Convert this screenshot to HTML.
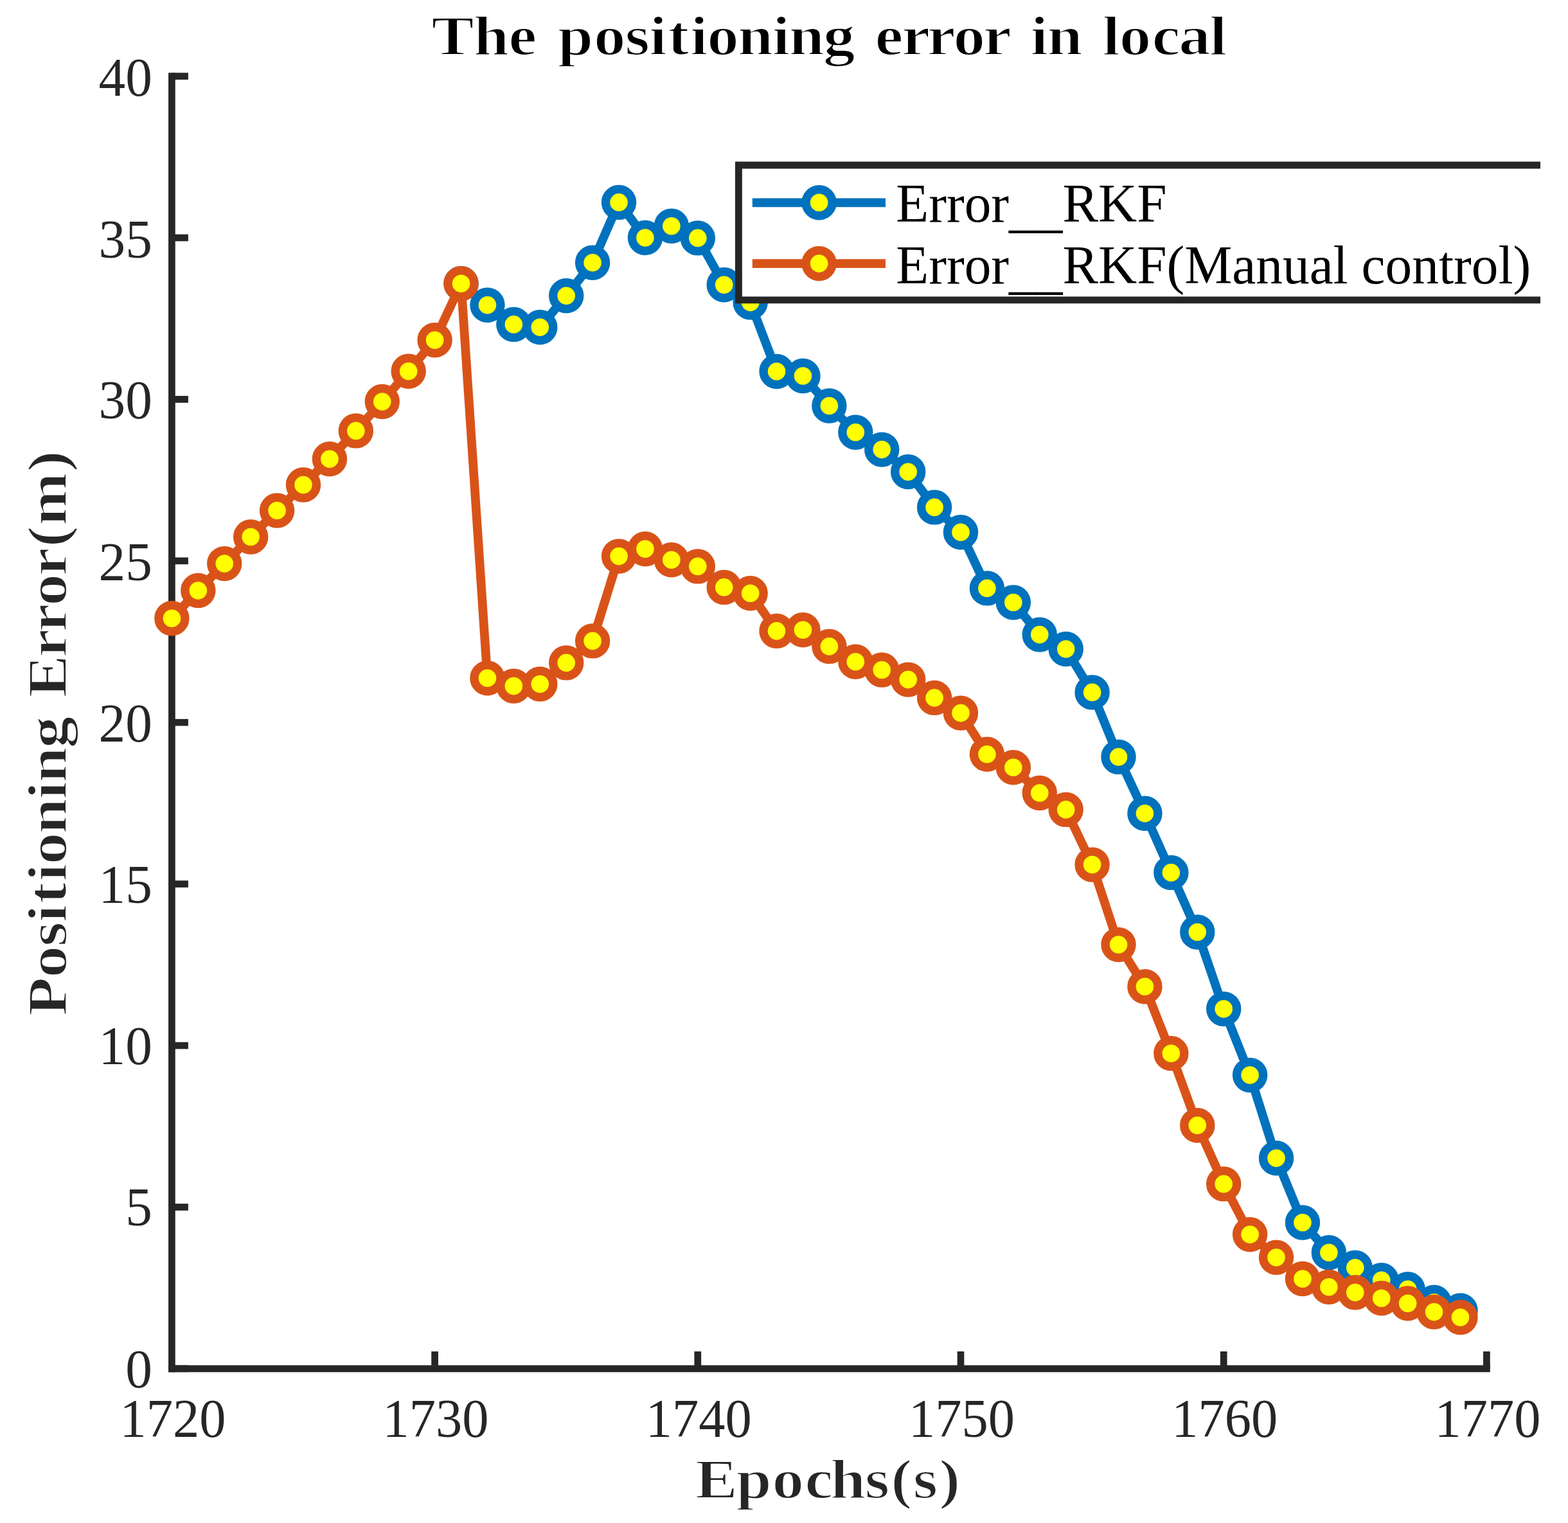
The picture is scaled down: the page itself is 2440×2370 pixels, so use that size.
<!DOCTYPE html>
<html lang="en"><head><meta charset="utf-8"><title>The positioning error in local</title>
<style>html,body{margin:0;padding:0;background:#fff;overflow:hidden}svg{display:block}text{font-family:"Liberation Serif","DejaVu Serif",serif;font-size:83.33px;white-space:pre}.tk{fill:#262626}.b{font-weight:bold}.lg{fill:#000}</style></head><body>
<svg width="2440" height="2370" viewBox="0 0 2440 2370">
<rect width="2440" height="2370" fill="#fff"/>
<g stroke="#262626" stroke-width="10.7" fill="none" stroke-linecap="butt">
<path d="M267.4,113.25 V2135.2"/>
<path d="M262.05,2129.85 H2318.75"/>
<path d="M267.4,2129.85 H292.9"/>
<path d="M267.4,1878.44 H292.9"/>
<path d="M267.4,1627.04 H292.9"/>
<path d="M267.4,1375.63 H292.9"/>
<path d="M267.4,1124.22 H292.9"/>
<path d="M267.4,872.82 H292.9"/>
<path d="M267.4,621.41 H292.9"/>
<path d="M267.4,370.01 H292.9"/>
<path d="M267.4,118.6 H292.9"/>
<path d="M676.6,2129.85 V2103"/>
<path d="M1085.8,2129.85 V2103"/>
<path d="M1495,2129.85 V2103"/>
<path d="M1904.2,2129.85 V2103"/>
<path d="M2313.4,2129.85 V2103"/>
</g>
<g class="tk">
<text transform="translate(236.8,2158.65) scale(1,1.025)" text-anchor="end">0</text>
<text transform="translate(236.8,1906.94) scale(1,1.025)" text-anchor="end">5</text>
<text transform="translate(236.8,1656.34) scale(1,1.025)" text-anchor="end">10</text>
<text transform="translate(236.8,1404.73) scale(1,1.025)" text-anchor="end">15</text>
<text transform="translate(236.8,1154.12) scale(1,1.025)" text-anchor="end">20</text>
<text transform="translate(236.8,902.62) scale(1,1.025)" text-anchor="end">25</text>
<text transform="translate(236.8,651.41) scale(1,1.025)" text-anchor="end">30</text>
<text transform="translate(236.8,400.61) scale(1,1.025)" text-anchor="end">35</text>
<text transform="translate(236.8,148.9) scale(1,1.025)" text-anchor="end">40</text>
<text transform="translate(268.9,2236.2) scale(0.99,1.025)" text-anchor="middle">1720</text>
<text transform="translate(678.1,2236.2) scale(0.99,1.025)" text-anchor="middle">1730</text>
<text transform="translate(1087.3,2236.2) scale(0.99,1.025)" text-anchor="middle">1740</text>
<text transform="translate(1496.5,2236.2) scale(0.99,1.025)" text-anchor="middle">1750</text>
<text transform="translate(1905.7,2236.2) scale(0.99,1.025)" text-anchor="middle">1760</text>
<text transform="translate(2314.9,2236.2) scale(0.99,1.025)" text-anchor="middle">1770</text>
</g>
<polyline points="717.52,441.3 758.44,474.7 799.36,504.9 840.28,509.3 881.2,460.2 922.12,408.8 963.04,314.9 1003.96,370 1044.88,351.8 1085.8,370.4 1126.72,443.2 1167.64,470.6 1208.56,578 1249.48,585 1290.4,631.5 1331.32,672.8 1372.24,699.6 1413.16,734.3 1454.08,789.4 1495,828.2 1535.92,915.4 1576.84,937.5 1617.76,987.6 1658.68,1010 1699.6,1077.4 1740.52,1177.9 1781.44,1265.8 1822.36,1357.9 1863.28,1450.5 1904.2,1570.1 1945.12,1673.1 1986.04,1802.3 2026.96,1902.5 2067.88,1949.3 2108.8,1972.7 2149.72,1992.3 2190.64,2006.3 2231.56,2026.8 2272.48,2039.4" fill="none" stroke="#0072BD" stroke-width="13.8" stroke-linejoin="round"/>
<g fill="#FFFF00" stroke="#0072BD" stroke-width="13.4">
<circle cx="717.52" cy="441.3" r="20.5"/>
<circle cx="758.44" cy="474.7" r="20.5"/>
<circle cx="799.36" cy="504.9" r="20.5"/>
<circle cx="840.28" cy="509.3" r="20.5"/>
<circle cx="881.2" cy="460.2" r="20.5"/>
<circle cx="922.12" cy="408.8" r="20.5"/>
<circle cx="963.04" cy="314.9" r="20.5"/>
<circle cx="1003.96" cy="370" r="20.5"/>
<circle cx="1044.88" cy="351.8" r="20.5"/>
<circle cx="1085.8" cy="370.4" r="20.5"/>
<circle cx="1126.72" cy="443.2" r="20.5"/>
<circle cx="1167.64" cy="470.6" r="20.5"/>
<circle cx="1208.56" cy="578" r="20.5"/>
<circle cx="1249.48" cy="585" r="20.5"/>
<circle cx="1290.4" cy="631.5" r="20.5"/>
<circle cx="1331.32" cy="672.8" r="20.5"/>
<circle cx="1372.24" cy="699.6" r="20.5"/>
<circle cx="1413.16" cy="734.3" r="20.5"/>
<circle cx="1454.08" cy="789.4" r="20.5"/>
<circle cx="1495" cy="828.2" r="20.5"/>
<circle cx="1535.92" cy="915.4" r="20.5"/>
<circle cx="1576.84" cy="937.5" r="20.5"/>
<circle cx="1617.76" cy="987.6" r="20.5"/>
<circle cx="1658.68" cy="1010" r="20.5"/>
<circle cx="1699.6" cy="1077.4" r="20.5"/>
<circle cx="1740.52" cy="1177.9" r="20.5"/>
<circle cx="1781.44" cy="1265.8" r="20.5"/>
<circle cx="1822.36" cy="1357.9" r="20.5"/>
<circle cx="1863.28" cy="1450.5" r="20.5"/>
<circle cx="1904.2" cy="1570.1" r="20.5"/>
<circle cx="1945.12" cy="1673.1" r="20.5"/>
<circle cx="1986.04" cy="1802.3" r="20.5"/>
<circle cx="2026.96" cy="1902.5" r="20.5"/>
<circle cx="2067.88" cy="1949.3" r="20.5"/>
<circle cx="2108.8" cy="1972.7" r="20.5"/>
<circle cx="2149.72" cy="1992.3" r="20.5"/>
<circle cx="2190.64" cy="2006.3" r="20.5"/>
<circle cx="2231.56" cy="2026.8" r="20.5"/>
<circle cx="2272.48" cy="2039.4" r="20.5"/>
</g>
<polyline points="267.4,962.2 308.32,919 349.24,877.1 390.16,835.5 431.08,794.5 472,754.5 512.92,714.2 553.84,670.4 594.76,625 635.68,577.7 676.6,529.2 717.52,441.3 758.44,1055.3 799.36,1067.6 840.28,1064.5 881.2,1031.4 922.12,997.4 963.04,865.6 1003.96,854.3 1044.88,871.3 1085.8,881.4 1126.72,913.9 1167.64,923.3 1208.56,981.9 1249.48,980.3 1290.4,1005.9 1331.32,1029.8 1372.24,1042.5 1413.16,1057.6 1454.08,1085.9 1495,1109.6 1535.92,1173.8 1576.84,1194.3 1617.76,1234 1658.68,1259.9 1699.6,1345.6 1740.52,1470.1 1781.44,1535.3 1822.36,1639.3 1863.28,1751.3 1904.2,1842.4 1945.12,1921.1 1986.04,1956.8 2026.96,1990 2067.88,2002.7 2108.8,2011.3 2149.72,2020.3 2190.64,2028.2 2231.56,2041.6 2272.48,2050" fill="none" stroke="#D95319" stroke-width="13.8" stroke-linejoin="round"/>
<g fill="#FFFF00" stroke="#D95319" stroke-width="13.4">
<circle cx="267.4" cy="962.2" r="20.5"/>
<circle cx="308.32" cy="919" r="20.5"/>
<circle cx="349.24" cy="877.1" r="20.5"/>
<circle cx="390.16" cy="835.5" r="20.5"/>
<circle cx="431.08" cy="794.5" r="20.5"/>
<circle cx="472" cy="754.5" r="20.5"/>
<circle cx="512.92" cy="714.2" r="20.5"/>
<circle cx="553.84" cy="670.4" r="20.5"/>
<circle cx="594.76" cy="625" r="20.5"/>
<circle cx="635.68" cy="577.7" r="20.5"/>
<circle cx="676.6" cy="529.2" r="20.5"/>
<circle cx="717.52" cy="441.3" r="20.5"/>
<circle cx="758.44" cy="1055.3" r="20.5"/>
<circle cx="799.36" cy="1067.6" r="20.5"/>
<circle cx="840.28" cy="1064.5" r="20.5"/>
<circle cx="881.2" cy="1031.4" r="20.5"/>
<circle cx="922.12" cy="997.4" r="20.5"/>
<circle cx="963.04" cy="865.6" r="20.5"/>
<circle cx="1003.96" cy="854.3" r="20.5"/>
<circle cx="1044.88" cy="871.3" r="20.5"/>
<circle cx="1085.8" cy="881.4" r="20.5"/>
<circle cx="1126.72" cy="913.9" r="20.5"/>
<circle cx="1167.64" cy="923.3" r="20.5"/>
<circle cx="1208.56" cy="981.9" r="20.5"/>
<circle cx="1249.48" cy="980.3" r="20.5"/>
<circle cx="1290.4" cy="1005.9" r="20.5"/>
<circle cx="1331.32" cy="1029.8" r="20.5"/>
<circle cx="1372.24" cy="1042.5" r="20.5"/>
<circle cx="1413.16" cy="1057.6" r="20.5"/>
<circle cx="1454.08" cy="1085.9" r="20.5"/>
<circle cx="1495" cy="1109.6" r="20.5"/>
<circle cx="1535.92" cy="1173.8" r="20.5"/>
<circle cx="1576.84" cy="1194.3" r="20.5"/>
<circle cx="1617.76" cy="1234" r="20.5"/>
<circle cx="1658.68" cy="1259.9" r="20.5"/>
<circle cx="1699.6" cy="1345.6" r="20.5"/>
<circle cx="1740.52" cy="1470.1" r="20.5"/>
<circle cx="1781.44" cy="1535.3" r="20.5"/>
<circle cx="1822.36" cy="1639.3" r="20.5"/>
<circle cx="1863.28" cy="1751.3" r="20.5"/>
<circle cx="1904.2" cy="1842.4" r="20.5"/>
<circle cx="1945.12" cy="1921.1" r="20.5"/>
<circle cx="1986.04" cy="1956.8" r="20.5"/>
<circle cx="2026.96" cy="1990" r="20.5"/>
<circle cx="2067.88" cy="2002.7" r="20.5"/>
<circle cx="2108.8" cy="2011.3" r="20.5"/>
<circle cx="2149.72" cy="2020.3" r="20.5"/>
<circle cx="2190.64" cy="2028.2" r="20.5"/>
<circle cx="2231.56" cy="2041.6" r="20.5"/>
<circle cx="2272.48" cy="2050" r="20.5"/>
</g>
<rect x="1149.4" y="257.0" width="1247.6" height="209.9" fill="#fff"/>
<path d="M2397.0,257.0 H1149.4 V466.9 H2397.0" fill="none" stroke="#262626" stroke-width="10.9" stroke-linejoin="miter"/>
<path d="M1170.8,315.3 H1378" stroke="#0072BD" stroke-width="13.8" fill="none"/>
<circle cx="1274.6" cy="315.3" r="20.5" fill="#FFFF00" stroke="#0072BD" stroke-width="13.4"/>
<path d="M1170.8,410.1 H1378" stroke="#D95319" stroke-width="13.8" fill="none"/>
<circle cx="1274.6" cy="410.1" r="20.5" fill="#FFFF00" stroke="#D95319" stroke-width="13.4"/>
<text class="lg" transform="translate(1394.3,345.1) scale(1,1.02)">Error<tspan dy="6.3">__</tspan><tspan dy="-6.3">RKF</tspan></text>
<text class="lg" transform="translate(1394.3,441.3) scale(1,1.02)">Error<tspan dy="6.3">__</tspan><tspan dy="-6.3">RKF(Manual control)</tspan></text>
<text class="b lg" font-size="84.0" transform="translate(0,85.2) scale(1.19,1.04)" x="564.34 619.38 664.92 705.67 729.35 776.46 817.14 848.88 873.38 902.52 924.49 964.64 1009.87 1031.72 1076.58 1120.49 1144.08 1179.13 1212.32 1246.69 1285.78 1323.99 1347.46 1369.31 1418.1 1441.66 1463.63 1506.25 1541.36 1581.43" y="0" stroke="#fff" stroke-width="1.9" stroke-linejoin="round">The positioning error in local</text>
<text class="b tk" font-size="84.0" transform="translate(0,2330.5) scale(1.19,1.04)" x="909.1 962.6 1009.7 1052.33 1085.63 1130.91 1164.82 1194.01 1227.91" y="0" stroke="#fff" stroke-width="1.9" stroke-linejoin="round">Epochs(s)</text>
<text class="b tk" font-size="84.0" transform="translate(103.4,0) rotate(-90) scale(1.19,1.04)" x="-1328.67 -1278.6 -1237.92 -1206.18 -1181.67 -1152.54 -1130.57 -1090.42 -1045.19 -1023.34 -978.47 -934.48 -912.16 -859.72 -826.53 -792.16 -753.07 -715.51 -687.31 -617.12" y="0" stroke="#fff" stroke-width="1.9" stroke-linejoin="round">Positioning Error(m)</text>
</svg></body></html>
